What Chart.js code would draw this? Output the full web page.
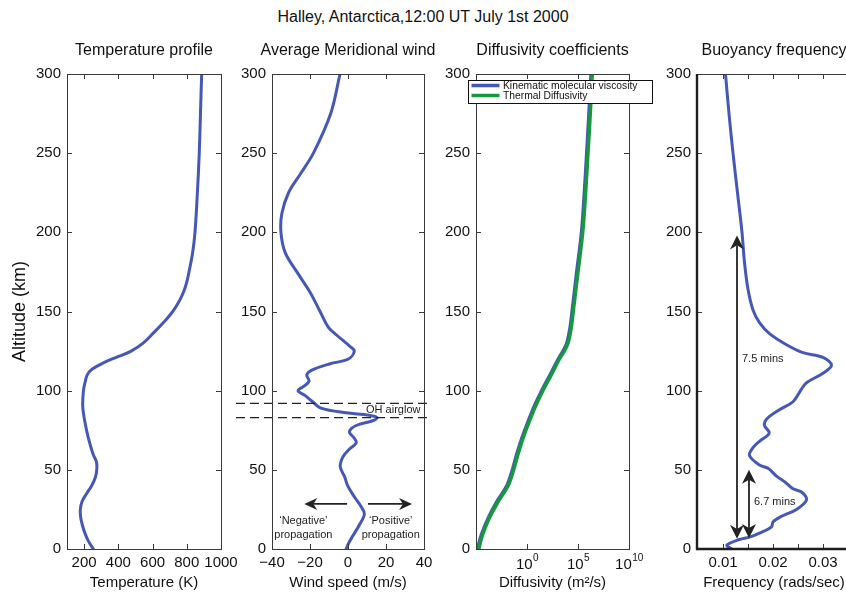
<!DOCTYPE html>
<html lang="en">
<head>
<meta charset="utf-8">
<title>Halley, Antarctica, 12:00 UT July 1st 2000</title>
<script src="https://cdn.jsdelivr.net/npm/chart.js@4.4.1/dist/chart.umd.min.js"></script>
<style>
    html, body { margin: 0; padding: 0; background: #fff; overflow: hidden; }
    body { position: relative; width: 846px; height: 592px; }
    #main-title { position: absolute; left: 0; top: 8px; width: 846px; text-align: center;
                  font: 16px "Liberation Sans", Arial, sans-serif; color: #111; }
    canvas { position: absolute; top: 30px; }
</style>
</head>
<body>
<div id="main-title">Halley, Antarctica,12:00 UT July 1st 2000</div>
<canvas id="temp-chart" width="241" height="562" style="left:0px"></canvas>
<canvas id="wind-chart" width="214" height="562" style="left:226px"></canvas>
<canvas id="diff-chart" width="230" height="562" style="left:430px"></canvas>
<canvas id="buoy-chart" width="205" height="562" style="left:651px"></canvas>
<script>
// shared altitude axis
const altTicks = [0, 50, 100, 150, 200, 250, 300];
const altLabels = ['0', '50', '100', '150', '200', '250', '300'];

// Temperature profile (K)
const tempAlt = [0, 5, 10, 15, 20, 25, 30, 35, 40, 45, 50, 55, 60, 70, 80, 90, 100, 105, 110, 113, 116, 119, 122, 125, 130, 137, 145, 150, 155, 160, 165, 170, 175, 187, 200, 225, 250, 275, 300];
const tempK = [254, 225, 205, 190, 180, 178, 188, 215, 244, 265, 274, 272, 252, 225, 205, 192, 196, 205, 218, 240, 285, 340, 410, 475, 545, 610, 680, 718, 748, 772, 790, 803, 813, 834, 848, 862, 873, 880, 887];
const tempTicks = [200, 400, 600, 800, 1000];
const tempLabels = ['200', '400', '600', '800', '1000'];

// Average meridional wind (m/s)
const windAlt = [0, 4, 8, 15, 22, 27, 33, 40, 46, 50, 53, 58, 63, 67, 70, 74, 78, 81, 83, 84.5, 86, 89, 93, 97, 100, 103, 106, 110, 113, 117, 120, 125, 128, 135, 140, 150, 162, 175, 187, 200, 212, 225, 237, 250, 275, 300];
const windU = [-1, 0.5, 2.4, 5.9, 8.6, 6.8, 3.3, -0.2, -1.9, -3.6, -4.1, -2.8, 0.7, 4.3, 3.3, 0.7, 4.3, 13, 15.3, 11, -1, -14.3, -18.6, -22.7, -26.3, -23, -20.5, -21.7, -19, -9.4, 0.2, 3.3, 1, -5.9, -10.3, -14.7, -19.9, -26.9, -33, -35.3, -34.8, -31.3, -25, -18.2, -9.1, -4.2];
const windTicks = [-40, -20, 0, 20, 40];
const windLabels = ['\u221240', '\u221220', '0', '20', '40'];
const airglowAlt = [92, 83];
const propArrowAlt = 28.5;
const propArrowFrom = [-0.5, 10.5];
const propArrowTo = [-23, 33.7];
const propTextWind = [-23.5, 22.5];
const propTextTop = ['\u2018Negative\u2019', '\u2018Positive\u2019'];
const propTextAlt = [18, 9];

// Diffusivity coefficients (m^2/s)
const diffAlt = [0, 5, 10, 20, 30, 40, 50, 60, 70, 80, 90, 100, 110, 120, 125, 130, 140, 150, 175, 200, 225, 250, 275, 300];
const viscosity = [1.35e-5, 2.1e-5, 3.6e-5, 1.6e-4, 1.05e-3, 1.0e-2, 3.5e-2, 9.5e-2, 0.295, 1.12, 4.7, 26, 170, 1.1e3, 3.2e3, 7.5e3, 1.6e4, 2.5e4, 7.1e4, 2.1e5, 4.0e5, 6.8e5, 1.12e6, 1.8e6];
const thermalDiff = [1.9e-5, 2.9e-5, 5.0e-5, 2.2e-4, 1.5e-3, 1.4e-2, 4.9e-2, 0.133, 0.41, 1.57, 6.6, 36, 240, 1.5e3, 4.5e3, 1.05e4, 2.2e4, 3.4e4, 1.0e5, 2.9e5, 5.6e5, 9.5e5, 1.6e6, 2.5e6];
const diffTicks = [1, 1e5, 1e10];
const diffExponents = ['0', '5', '10'];

// Buoyancy frequency (rad/s)
const buoyAlt = [0, 2.5, 6, 7.5, 10, 14, 17, 20, 25, 31, 36, 38, 42, 46, 51, 53, 59, 64, 68, 72, 74, 78, 82, 88, 93, 101, 105, 111, 116, 121, 124, 129, 136, 143, 151, 164, 181, 200, 225, 250, 275, 300];
const buoyN = [0.0117, 0.0108, 0.0133, 0.0153, 0.0173, 0.0197, 0.020, 0.0213, 0.0247, 0.0267, 0.0257, 0.024, 0.0225, 0.0207, 0.019, 0.0173, 0.0153, 0.016, 0.0173, 0.019, 0.0192, 0.0183, 0.0187, 0.0213, 0.024, 0.0257, 0.0267, 0.030, 0.0317, 0.030, 0.026, 0.0227, 0.0193, 0.0173, 0.016, 0.015, 0.0143, 0.0138, 0.0129, 0.012, 0.0112, 0.0105];
const freqTicks = [0.01, 0.015, 0.02, 0.025, 0.03];
const freqLabels = ['0.01', '', '0.02', '', '0.03'];
const periodFreq = [0.0128, 0.0152];
const periodFrom = [6.5, 7];
const periodTo = [198, 50];
const periodText = ['7.5 mins', '6.7 mins'];
const periodTextAlt = [120, 29.6];

const FONT = '"Liberation Sans", Arial, Helvetica, sans-serif';
const BLUE = '#4558b5';
const GREEN = '#16993c';
const INK = '#222';

Chart.defaults.font.family = FONT;
Chart.defaults.font.size = 15;
Chart.defaults.color = '#111';

// box, inward ticks on all four sides and the panel title
Chart.register({
    id: 'frame',
    afterDraw(chart, args, opts) {
        const { ctx, chartArea: a, scales: { x, y } } = chart;
        ctx.save();
        ctx.strokeStyle = '#3a3a3a';
        ctx.lineWidth = 1;
        ctx.beginPath();
        x.ticks.forEach(t => {
            const px = Math.round(x.getPixelForValue(t.value)) + 0.5;
            if (px < a.left + 2 || px > a.right - 2) return;
            ctx.moveTo(px, a.bottom); ctx.lineTo(px, a.bottom - 5);
            ctx.moveTo(px, a.top); ctx.lineTo(px, a.top + 5);
        });
        y.ticks.forEach(t => {
            const py = Math.round(y.getPixelForValue(t.value)) + 0.5;
            if (py < a.top + 2 || py > a.bottom - 2) return;
            ctx.moveTo(a.left, py); ctx.lineTo(a.left + 5, py);
            ctx.moveTo(a.right, py); ctx.lineTo(a.right - 5, py);
        });
        ctx.stroke();
        ctx.strokeRect(Math.round(a.left) + 0.5, Math.round(a.top) + 0.5, Math.round(a.width), Math.round(a.height));
        if (opts.heavy) {
            ctx.lineWidth = 2.4;
            ctx.strokeStyle = '#1e1e1e';
            ctx.beginPath();
            ctx.moveTo(a.left, a.top); ctx.lineTo(a.left, a.bottom); ctx.lineTo(a.right + 2, a.bottom);
            ctx.stroke();
        }
        ctx.font = '16px ' + FONT;
        ctx.fillStyle = '#111';
        ctx.textAlign = 'center';
        ctx.textBaseline = 'middle';
        ctx.fillText(opts.title, (a.left + a.right) / 2, a.top - 23);
        ctx.restore();
    }
});

function profile(values, alts) {
    return values.map((v, i) => ({ x: v, y: alts[i] }));
}

function arrowHead(ctx, x1, y1, x2, y2, head, half) {
    const c = Math.cos(Math.atan2(y2 - y1, x2 - x1));
    const s = Math.sin(Math.atan2(y2 - y1, x2 - x1));
    ctx.beginPath();
    ctx.moveTo(x1, y1);
    ctx.lineTo(x2 - c * head * 0.7, y2 - s * head * 0.7);
    ctx.stroke();
    ctx.beginPath();
    ctx.moveTo(x2, y2);
    ctx.lineTo(x2 - head * c + half * s, y2 - head * s - half * c);
    ctx.lineTo(x2 - head * 0.7 * c, y2 - head * 0.7 * s);
    ctx.lineTo(x2 - head * c - half * s, y2 - head * s + half * c);
    ctx.closePath();
    ctx.fill();
}

function panelOptions(cfg) {
    return {
        responsive: false,
        animation: false,
        events: [],
        layout: { padding: { top: 44, right: cfg.padRight, left: 0, bottom: 0 } },
        elements: { point: { radius: 0 }, line: { borderWidth: 3, tension: 0.35, borderCapStyle: 'round' } },
        plugins: {
            legend: { display: false },
            tooltip: { enabled: false },
            frame: { title: cfg.title, heavy: !!cfg.heavy }
        },
        scales: {
            x: {
                type: cfg.xType || 'linear',
                min: cfg.xMin,
                max: cfg.xMax,
                grid: { display: false, drawTicks: false },
                border: { display: false },
                afterBuildTicks: s => { s.ticks = cfg.xTicks.map(v => ({ value: v })); },
                afterFit: s => { s.height = 43; s.paddingLeft = s.paddingRight = s.paddingTop = s.paddingBottom = 0; },
                ticks: { display: !!cfg.xLabels, autoSkip: false, maxRotation: 0, minRotation: 0, padding: 5,
                         callback: (v, i) => cfg.xLabels ? cfg.xLabels[i] : '' },
                title: { display: true, text: cfg.xTitle, font: { size: 15 }, padding: { top: 0, bottom: 0 } }
            },
            y: {
                min: 0,
                max: 300,
                grid: { display: false, drawTicks: false },
                border: { display: false },
                afterBuildTicks: s => { s.ticks = altTicks.map(v => ({ value: v })); },
                afterFit: s => { s.width = cfg.yWidth; s.paddingLeft = s.paddingRight = s.paddingTop = s.paddingBottom = 0; },
                ticks: { autoSkip: false, padding: 6, callback: (v, i) => altLabels[i] },
                title: cfg.yTitle
                    ? { display: true, text: cfg.yTitle, font: { size: 18 }, padding: { top: 9, bottom: 0 } }
                    : { display: false }
            }
        }
    };
}

// --- Temperature ---
new Chart(document.getElementById('temp-chart'), {
    type: 'line',
    data: { datasets: [{ label: 'Temperature', data: profile(tempK, tempAlt), borderColor: BLUE }] },
    options: panelOptions({
        title: 'Temperature profile', xMin: 100, xMax: 1000, xTicks: tempTicks, xLabels: tempLabels,
        xTitle: 'Temperature (K)', yWidth: 67, padRight: 20, yTitle: 'Altitude (km)'
    })
});

// --- Meridional wind ---
new Chart(document.getElementById('wind-chart'), {
    type: 'line',
    data: { datasets: [{ label: 'Wind', data: profile(windU, windAlt), borderColor: BLUE }] },
    options: panelOptions({
        title: 'Average Meridional wind', xMin: -40, xMax: 40, xTicks: windTicks, xLabels: windLabels,
        xTitle: 'Wind speed (m/s)', yWidth: 46, padRight: 16
    }),
    plugins: [{
        id: 'windNotes',
        afterDatasetsDraw(chart) {
            const { ctx, chartArea: a, scales: { x, y } } = chart;
            ctx.save();
            ctx.strokeStyle = INK;
            ctx.fillStyle = INK;
            ctx.lineWidth = 1.3;
            ctx.setLineDash([9, 5]);
            airglowAlt.forEach(h => {
                const py = y.getPixelForValue(h);
                ctx.beginPath();
                ctx.moveTo(a.left - 36, py);
                ctx.lineTo(a.right + 8, py);
                ctx.stroke();
            });
            ctx.setLineDash([]);
            ctx.font = '11px ' + FONT;
            ctx.textBaseline = 'middle';
            ctx.textAlign = 'left';
            ctx.fillText('OH airglow', x.getPixelForValue(9.5), y.getPixelForValue((airglowAlt[0] + airglowAlt[1]) / 2));

            ctx.lineWidth = 1.6;
            const py = y.getPixelForValue(propArrowAlt);
            propArrowFrom.forEach((w, i) => {
                arrowHead(ctx, x.getPixelForValue(w), py, x.getPixelForValue(propArrowTo[i]), py, 13, 6);
            });
            ctx.textAlign = 'center';
            propTextWind.forEach((w, i) => {
                const px = x.getPixelForValue(w);
                ctx.fillText(propTextTop[i], px, y.getPixelForValue(propTextAlt[0]));
                ctx.fillText('propagation', px, y.getPixelForValue(propTextAlt[1]));
            });
            ctx.restore();
        }
    }]
});

// --- Diffusivity ---
new Chart(document.getElementById('diff-chart'), {
    type: 'line',
    data: {
        datasets: [
            { label: 'Kinematic molecular viscosity', data: profile(viscosity, diffAlt), borderColor: BLUE, order: 2 },
            { label: 'Thermal Diffusivity', data: profile(thermalDiff, diffAlt), borderColor: GREEN, borderWidth: 3.5, order: 1 }
        ]
    },
    options: panelOptions({
        title: 'Diffusivity coefficients', xType: 'logarithmic', xMin: 1e-5, xMax: 1e10, xTicks: diffTicks,
        xTitle: 'Diffusivity (m\u00b2/s)', yWidth: 46, padRight: 31
    }),
    plugins: [{
        id: 'diffExtras',
        afterDraw(chart) {
            const { ctx, chartArea: a, scales: { x } } = chart;
            ctx.save();
            ctx.fillStyle = '#111';
            ctx.textAlign = 'left';
            ctx.textBaseline = 'alphabetic';
            // 10^n tick labels
            diffTicks.forEach((v, i) => {
                ctx.font = '15px ' + FONT;
                const wb = ctx.measureText('10').width;
                ctx.font = '10px ' + FONT;
                const ws = ctx.measureText(diffExponents[i]).width;
                const x0 = x.getPixelForValue(v) - (wb + ws) / 2;
                ctx.font = '15px ' + FONT;
                ctx.fillText('10', x0, a.bottom + 19.5);
                ctx.font = '10px ' + FONT;
                ctx.fillText(diffExponents[i], x0 + wb + 0.5, a.bottom + 12);
            });
            // legend box
            const lx = Math.round(a.left) - 8, ly = Math.round(a.top) + 6, lw = 184, lh = 23;
            ctx.fillStyle = '#fff';
            ctx.fillRect(lx, ly, lw, lh);
            ctx.strokeStyle = '#111';
            ctx.lineWidth = 1;
            ctx.strokeRect(lx + 0.5, ly + 0.5, lw, lh);
            ctx.font = '10.3px ' + FONT;
            ctx.textBaseline = 'middle';
            chart.data.datasets.forEach((ds, i) => {
                const yy = ly + 5.5 + i * 10;
                ctx.strokeStyle = ds.borderColor;
                ctx.lineWidth = 3.5;
                ctx.beginPath();
                ctx.moveTo(lx + 3.5, yy);
                ctx.lineTo(lx + 31.5, yy);
                ctx.stroke();
                ctx.fillStyle = '#111';
                ctx.fillText(ds.label, lx + 35, yy + 0.5);
            });
            ctx.restore();
        }
    }]
});

// --- Buoyancy frequency ---
new Chart(document.getElementById('buoy-chart'), {
    type: 'line',
    data: { datasets: [{ label: 'Buoyancy frequency', data: profile(buoyN, buoyAlt), borderColor: BLUE }] },
    options: panelOptions({
        title: 'Buoyancy frequency', xMin: 0.0048, xMax: 0.0356, xTicks: freqTicks, xLabels: freqLabels,
        xTitle: 'Frequency (rads/sec)', yWidth: 46, padRight: 5, heavy: true
    }),
    plugins: [{
        id: 'periods',
        afterDatasetsDraw(chart) {
            const { ctx, scales: { x, y } } = chart;
            ctx.save();
            ctx.strokeStyle = INK;
            ctx.fillStyle = INK;
            ctx.lineWidth = 1.8;
            ctx.font = '11px ' + FONT;
            ctx.textBaseline = 'middle';
            ctx.textAlign = 'left';
            periodFreq.forEach((f, i) => {
                const px = x.getPixelForValue(f);
                const y1 = y.getPixelForValue(periodFrom[i]);
                const y2 = y.getPixelForValue(periodTo[i]);
                const mid = (y1 + y2) / 2;
                arrowHead(ctx, px, mid, px, y1, 14, 7);
                arrowHead(ctx, px, mid, px, y2, 14, 7);
                ctx.fillText(periodText[i], px + 5, y.getPixelForValue(periodTextAlt[i]));
            });
            ctx.restore();
        }
    }]
});
</script>
</body>
</html>
